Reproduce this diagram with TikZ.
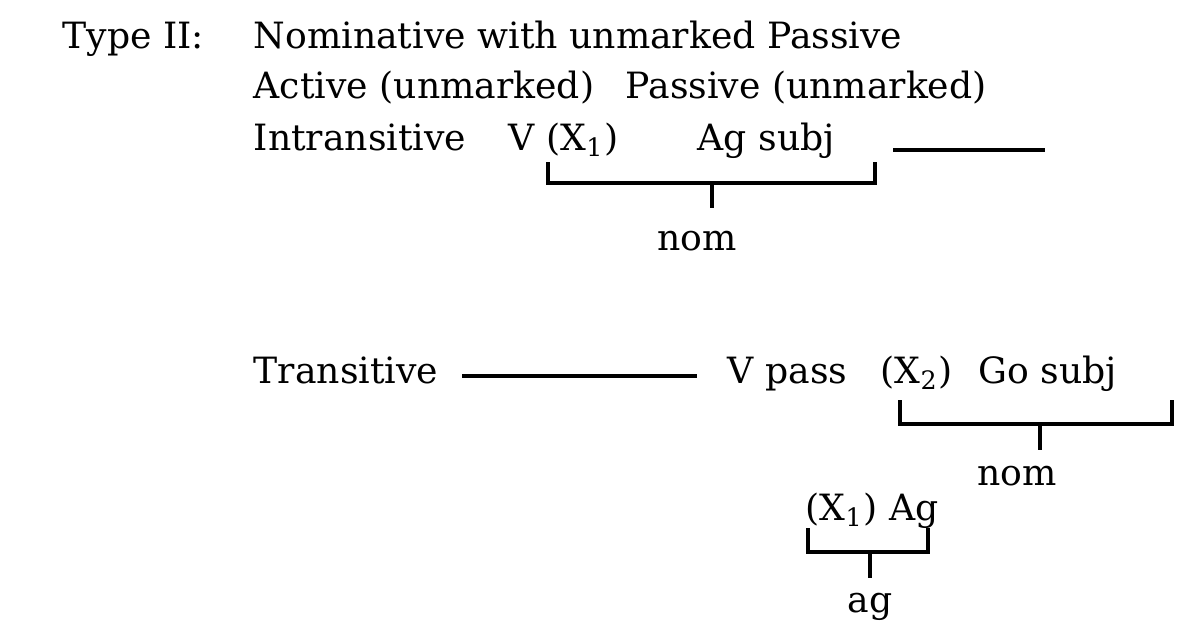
\documentclass[tikz,border=0pt]{standalone}
\usepackage{fontspec}
\setmainfont{DejaVu Serif}

\begin{document}
\begin{tikzpicture}[x=1cm,y=1cm,
    word/.style={font=\fontsize{10.3}{12}\selectfont, anchor=base west,
      inner sep=0pt},
    casename/.style={font=\fontsize{10.3}{12}\selectfont, anchor=base,
      inner sep=0pt},
    bracket/.style={draw, line width=.9pt, line cap=butt, line join=miter},
    blank/.style={draw, line width=.9pt}]
  \useasboundingbox (0,0) rectangle (11.84,6.28);

  % heading
  \node[word] (type) at (.62,5.80) {Type II:};
  \node[word] (title) at (2.53,5.80) {Nominative with unmarked Passive};
  \node[word] (active) at (2.53,5.30) {Active (unmarked)};
  \node[word] (passive) at (6.25,5.30) {Passive (unmarked)};

  % intransitive row
  \node[word] (intrans) at (2.53,4.78) {Intransitive};
  \node[word] (vx) at (5.08,4.78) {V (X\textsubscript{1})};
  \node[word] (agsubj) at (6.97,4.78) {Ag subj};
  \coordinate (gapa) at (8.93,4.78);
  \coordinate (gapb) at (10.45,4.78);
  \draw[blank] (gapa) -- (gapb);

  \coordinate (nomal) at (5.48,4.66);
  \coordinate (nomar) at (8.75,4.66);
  \coordinate (nomam) at (7.12,4.45);
  \draw[bracket] (nomal) -- ++(0,-.21) -| (nomar);
  \draw[bracket] (nomam) -- ++(0,-.25);
  \node[casename] (noma) at (6.97,3.78) {nom};

  % transitive row
  \node[word] (trans) at (2.53,2.45) {Transitive};
  \coordinate (gapc) at (4.62,2.52);
  \coordinate (gapd) at (6.97,2.52);
  \draw[blank] (gapc) -- (gapd);
  \node[word] (vpass) at (7.27,2.45) {V pass};
  \node[word] (xtwo) at (8.80,2.45) {(X\textsubscript{2})};
  \node[word] (gosubj) at (9.78,2.45) {Go subj};

  \coordinate (nombl) at (9.00,2.28);
  \coordinate (nombr) at (11.72,2.28);
  \coordinate (nombm) at (10.40,2.04);
  \draw[bracket] (nombl) -- ++(0,-.24) -| (nombr);
  \draw[bracket] (nombm) -- ++(0,-.26);
  \node[casename] (nomb) at (10.17,1.43) {nom};

  \node[word] (xag) at (8.05,1.08) {(X\textsubscript{1}) Ag};
  \coordinate (agl) at (8.08,1.00);
  \coordinate (agr) at (9.28,1.00);
  \coordinate (agm) at (8.70,.76);
  \draw[bracket] (agl) -- ++(0,-.24) -| (agr);
  \draw[bracket] (agm) -- ++(0,-.26);
  \node[casename] (ag) at (8.70,.16) {ag};
\end{tikzpicture}
\end{document}
